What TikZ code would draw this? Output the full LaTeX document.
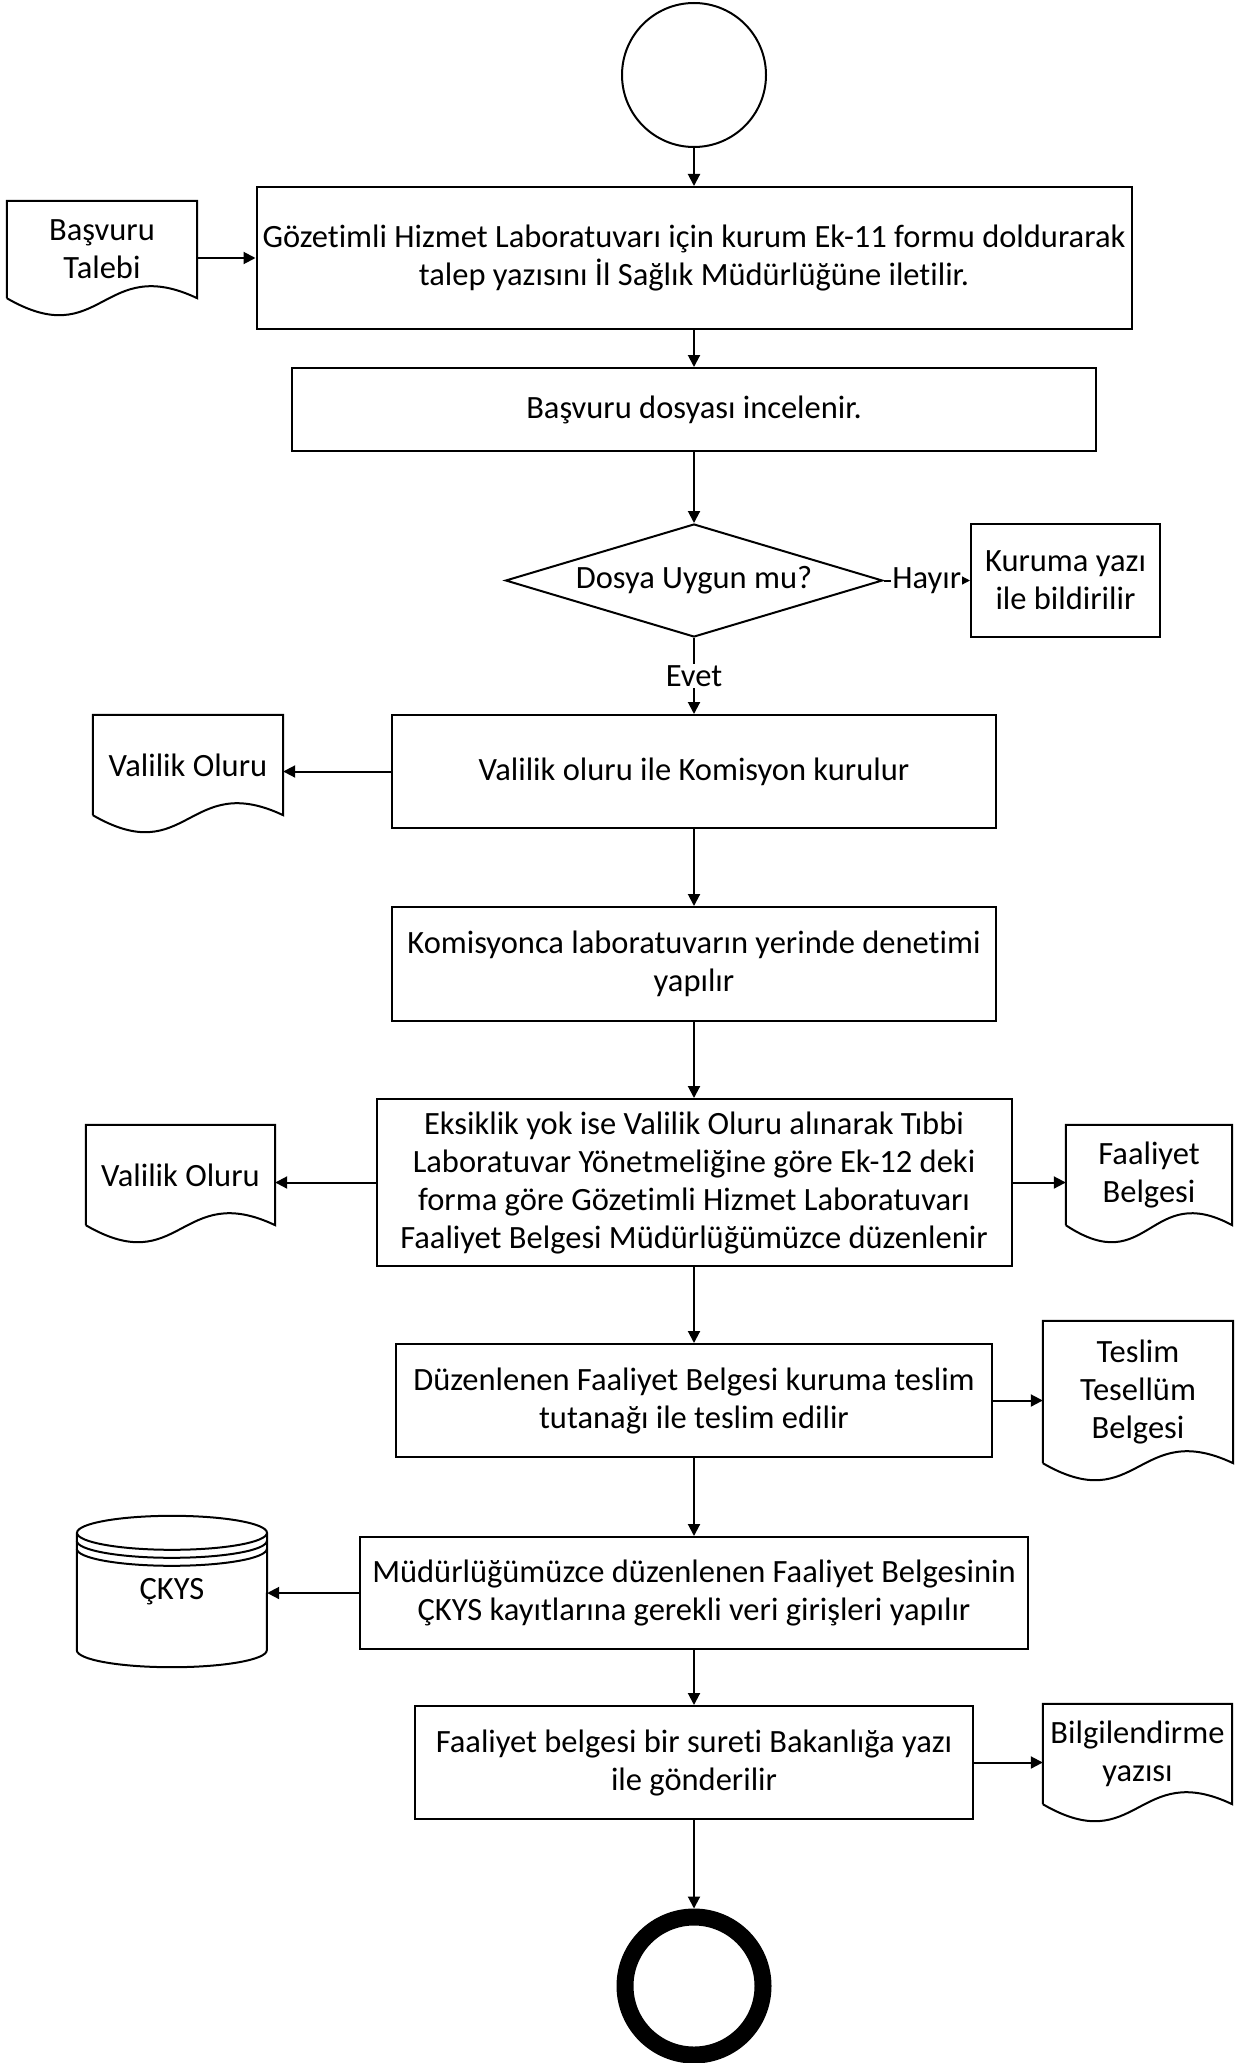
\documentclass[tikz,border=0pt]{standalone}
\usepackage{fontspec}
\setmainfont{Carlito}[Ligatures=NoCommon]
\usetikzlibrary{shapes.geometric, arrows.meta, calc}

\begin{document}
\begin{tikzpicture}[
    x=1pt, y=-1pt,
    font=\fontsize{32.5}{38}\selectfont,
    line/.style={draw=black, line width=2pt},
    box/.style={line, rectangle, inner sep=0pt, align=center},
    docu/.style={inner sep=0pt, align=center},
    decision/.style={line, diamond, inner sep=0pt, aspect=3.3},
    terminal/.style={line, circle, inner sep=0pt, minimum size=144pt},
    lbl/.style={fill=white, inner sep=1pt},
    arr/.style={line, -{Triangle[length=12pt, width=12pt]}},
]
    \useasboundingbox (0,0) rectangle (1257,2063);

    % ============= Main column =============
    \node[terminal] (start) at (694,75) {};
    \node[box, minimum width=875pt, minimum height=142pt] (box1) at (694,258) {Gözetimli Hizmet Laboratuvarı için kurum Ek-11 formu doldurarak\\talep yazısını İl Sağlık Müdürlüğüne iletilir.};
    \node[box, minimum width=804pt, minimum height=83pt] (box2) at (694,409.5) {Başvuru dosyası incelenir.};
    \node[decision, minimum width=377pt, minimum height=113pt] (dia) at (694,580.5) {Dosya Uygun mu?};
    \node[box, minimum width=189pt, minimum height=113pt] (kuruma) at (1065.5,580.5) {Kuruma yazı\\ile bildirilir};
    \node[box, minimum width=604pt, minimum height=113pt] (box3) at (694,771.5) {Valilik oluru ile Komisyon kurulur};
    \node[box, minimum width=604pt, minimum height=114pt] (box4) at (694,964) {Komisyonca laboratuvarın yerinde denetimi\\yapılır};
    \node[box, minimum width=635pt, minimum height=167pt] (box5) at (694,1182.5) {Eksiklik yok ise Valilik Oluru alınarak Tıbbi\\Laboratuvar Yönetmeliğine göre Ek-12 deki\\forma göre Gözetimli Hizmet Laboratuvarı\\Faaliyet Belgesi Müdürlüğümüzce düzenlenir};
    \node[box, minimum width=596pt, minimum height=113pt] (box6) at (694,1400.5) {Düzenlenen Faaliyet Belgesi kuruma teslim\\tutanağı ile teslim edilir};
    \node[box, minimum width=668pt, minimum height=112pt] (box7) at (694,1593) {Müdürlüğümüzce düzenlenen Faaliyet Belgesinin\\ÇKYS kayıtlarına gerekli veri girişleri yapılır};
    \node[box, minimum width=558pt, minimum height=113pt] (box8) at (694,1762.5) {Faaliyet belgesi bir sureti Bakanlığa yazı\\ile gönderilir};
    \node[terminal, line width=17pt, minimum size=138pt] (end) at (694,1986) {};

    % ============= Documents =============
    \node[docu, minimum width=190pt, minimum height=97pt] (talep) at (102,249.5) {Başvuru\\Talebi};
    \node[docu, minimum width=190pt, minimum height=100pt] (valilik1) at (188,765) {Valilik Oluru};
    \node[docu, minimum width=189pt, minimum height=100pt] (valilik2) at (180.5,1175) {Valilik Oluru};
    \node[docu, minimum width=166pt, minimum height=100pt] (faaliyet) at (1149,1175) {Faaliyet\\Belgesi};
    \node[docu, minimum width=190pt, minimum height=142pt] (teslim) at (1138,1392) {Teslim\\Tesellüm\\Belgesi};
    \node[docu, minimum width=189pt, minimum height=100pt] (bilgi) at (1137.5,1754) {Bilgilendirme\\yazısı};
    \foreach \d in {talep, valilik1, valilik2, faaliyet, teslim, bilgi}
        \draw[line] (\d.south west) -- (\d.north west) -- (\d.north east) -- (\d.south east)
            .. controls ($(\d.south)+(0,-45)$) and ($(\d.south)+(0,55)$) .. (\d.south west);

    % ============= Database =============
    \node[docu, minimum width=190pt, minimum height=151pt] (ckys) at (172,1591.5) {ÇKYS};
    \draw[line] ($(ckys.north)+(0,17)$) ellipse [x radius=95pt, y radius=17pt];
    \draw[line] ($(ckys.north west)+(0,25)$) arc [start angle=180, end angle=360, x radius=95pt, y radius=17pt];
    \draw[line] ($(ckys.north west)+(0,33)$) arc [start angle=180, end angle=360, x radius=95pt, y radius=17pt];
    \draw[line] ($(ckys.north west)+(0,17)$) -- ($(ckys.south west)+(0,-17)$)
        arc [start angle=180, end angle=360, x radius=95pt, y radius=17pt] -- ($(ckys.north east)+(0,17)$);

    % ============= Connectors =============
    \draw[arr] (start) -- (box1);
    \draw[arr] (talep.east |- box1.west) -- (box1.west);
    \draw[arr] (box1) -- (box2);
    \draw[arr] (box2) -- (dia);
    \draw[arr] (dia) -- node[lbl] {Hayır} (kuruma);
    \draw[arr] (dia) -- node[lbl] {Evet} (box3);
    \draw[arr] (box3.west) -- (box3.west -| valilik1.east);
    \draw[arr] (box3) -- (box4);
    \draw[arr] (box4) -- (box5);
    \draw[arr] (box5.west) -- (box5.west -| valilik2.east);
    \draw[arr] (box5.east) -- (box5.east -| faaliyet.west);
    \draw[arr] (box5) -- (box6);
    \draw[arr] (box6.east) -- (box6.east -| teslim.west);
    \draw[arr] (box6) -- (box7);
    \draw[arr] (box7.west) -- (box7.west -| ckys.east);
    \draw[arr] (box7) -- (box8);
    \draw[arr] (box8.east) -- (box8.east -| bilgi.west);
    \draw[arr] (box8) -- (end);
\end{tikzpicture}
\end{document}
